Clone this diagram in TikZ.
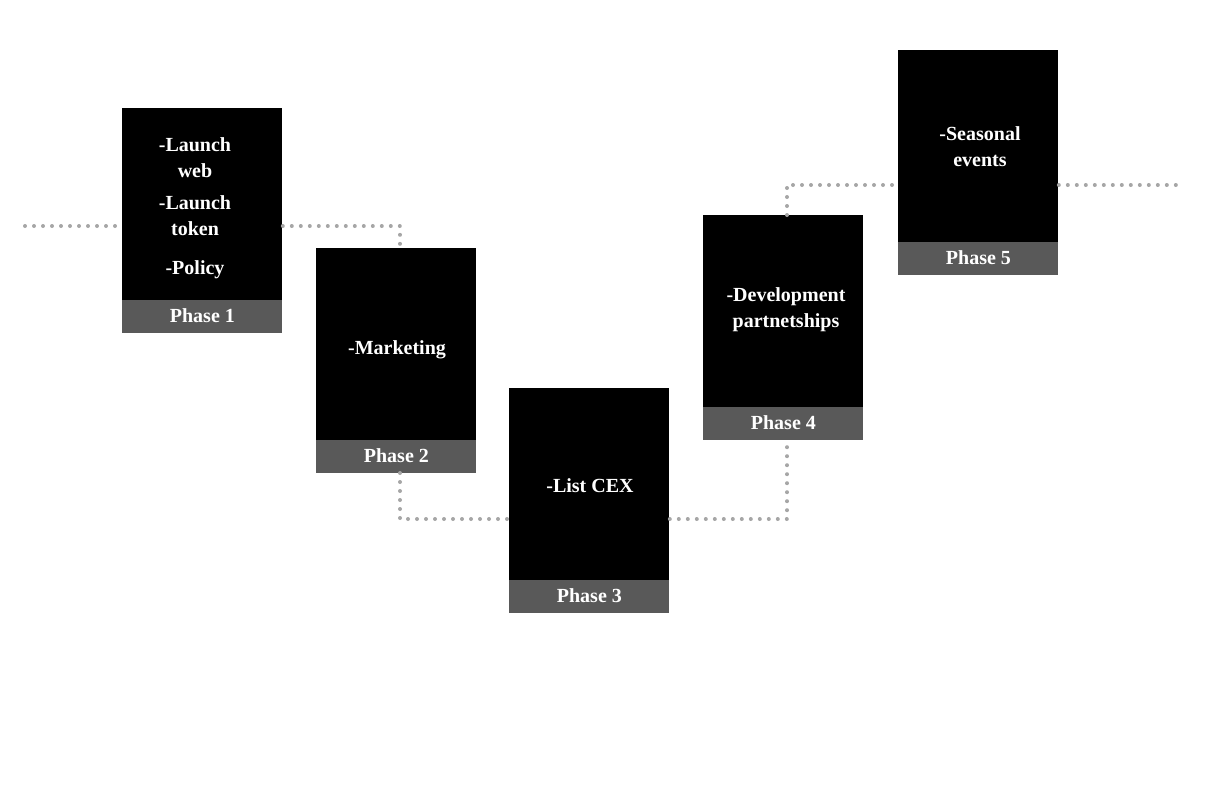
\documentclass[tikz,border=0pt]{standalone}
\usepackage{fontspec}
\setmainfont{Liberation Serif}
\begin{document}
\begin{tikzpicture}[x=0.5pt,y=-0.5pt,
 box/.style={fill=black,draw=none,minimum width=80pt,minimum height=112.5pt,anchor=north west,inner sep=0},
 band/.style={fill=black!65,draw=none,minimum width=80pt,minimum height=16.5pt,anchor=south west,inner sep=0,text=white,font=\bfseries\fontsize{10}{12}\selectfont},
 txt/.style={text=white,font=\bfseries\fontsize{10}{13}\selectfont,align=center},
 dots/.style={draw=black!35,line width=2pt,line cap=round,dash pattern=on 0pt off 4.5pt}]
\useasboundingbox (0,0) rectangle (1205,804);
\node[box] (b1) at (122,108) {};
\node[band] (p1) at (122,333) {Phase 1};
\node[box] (b2) at (316,248) {};
\node[band] (p2) at (316,473) {Phase 2};
\node[box] (b3) at (509,388) {};
\node[band] (p3) at (509,613) {Phase 3};
\node[box] (b4) at (703,215) {};
\node[band] (p4) at (703,440) {Phase 4};
\node[box] (b5) at (898,50) {};
\node[band] (p5) at (898,275) {Phase 5};
\node[txt] (t1a) at (195,158) {-Launch\\web};
\node[txt] (t1b) at (195,216) {-Launch\\token};
\node[txt] (t1c) at (195,270) {-Policy};
\node[txt] (t2) at (397,350) {-Marketing};
\node[txt] (t3) at (590,486) {-List CEX};
\node[txt] (t4) at (786,310) {-Development\\partnetships};
\node[txt] (t5) at (980,147) {-Seasonal\\events};
\coordinate (s) at (25,226);
\coordinate (e) at (1180,185);
\draw[dots] (s) -- (b1.west |- s);
\draw[dots] (b1.east |- s) -| (400,248);
\draw[dots] (400,473) |- (b3.west |- 0,519);
\draw[dots] (b3.east |- 0,519) -| (787,440);
\draw[dots] (787,215) |- (b5.west |- e);
\draw[dots] (b5.east |- e) -- (e);
\end{tikzpicture}
\end{document}
